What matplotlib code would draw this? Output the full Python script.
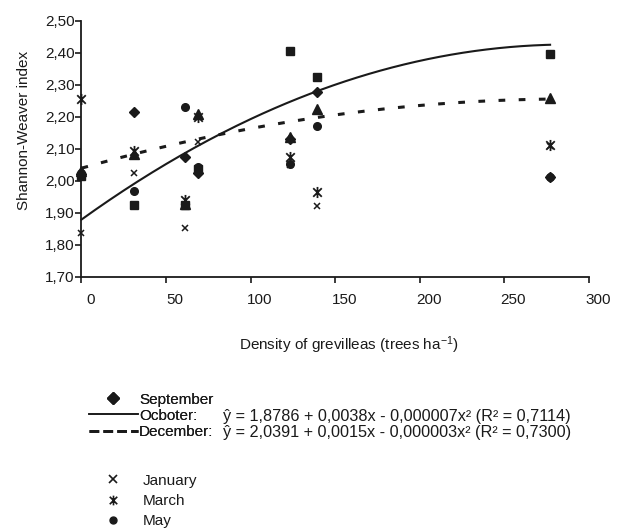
import numpy as np
import matplotlib
matplotlib.use("Agg")
from matplotlib import pyplot
from matplotlib.path import Path
from matplotlib.lines import Line2D
from matplotlib.transforms import ScaledTranslation

pyplot.rcParams["font.family"] = ["Liberation Sans", "DejaVu Sans"]
pyplot.rcParams["mathtext.fontset"] = "custom"
pyplot.rcParams["mathtext.rm"] = "Liberation Sans"
pyplot.rcParams["mathtext.it"] = "Liberation Sans:italic"

# Density of grevilleas (trees/ha)
density = [0, 31, 61, 69, 123, 139, 277]

# Shannon-Weaver index per month
september = [2.020, 2.215, 2.075, 2.025, 2.130, 2.278, 2.012]
october = [2.015, 1.924, 1.924, 2.036, 2.406, 2.325, 2.396]
december = [2.030, 2.085, 1.926, 2.210, 2.136, 2.223, 2.257]
january = [1.836, 2.023, 1.851, 2.122, 2.048, 1.921, 2.110]
march = [2.254, 2.094, 1.940, 2.198, 2.075, 1.966, 2.112]
may = [2.025, 1.969, 2.230, 2.044, 2.052, 2.171, 2.013]

# quadratic fits (coefficients as drawn)
october_fit = [1.8786, 0.0038, -0.0000066]
december_fit = [2.0391, 0.0015, -0.0000026]
october_eq = "ŷ = 1,8786 + 0,0038x - 0,000007x² (R² = 0,7114)"
december_eq = "ŷ = 2,0391 + 0,0015x - 0,000003x² (R² = 0,7300)"

x_ticks = [0, 50, 100, 150, 200, 250, 300]
y_ticks = [1.70, 1.80, 1.90, 2.00, 2.10, 2.20, 2.30, 2.40, 2.50]

ink = "#1a1a1a"
fs = 11
star = Path([(-1, -1), (1, 1), (-1, 1), (1, -1), (0, -1.3), (0, 1.3)],
            [Path.MOVETO, Path.LINETO, Path.MOVETO, Path.LINETO, Path.MOVETO, Path.LINETO])

fig = pyplot.figure(figsize=(6.18, 5.31), dpi=100)
ax = fig.add_axes([81.5 / 618, 1 - 276.7 / 531, (589 - 81.5) / 618, 256 / 531])

xx = np.linspace(density[0], density[-1], 200)
ax.plot(xx, october_fit[0] + october_fit[1] * xx + october_fit[2] * xx ** 2,
        color=ink, lw=1.5, clip_on=False)
ax.plot(xx, december_fit[0] + december_fit[1] * xx + december_fit[2] * xx ** 2,
        color=ink, lw=2.2, linestyle=(0, (2.2, 4.4)), clip_on=False)

ax.plot(density, september, "D", ms=5, color=ink, ls="none", clip_on=False)
ax.plot(density, october, "s", ms=6, color=ink, ls="none", clip_on=False)
ax.plot(density, december, "^", ms=6.5, color=ink, ls="none", clip_on=False)
ax.plot(density, january, "x", ms=5, mew=1.1, color=ink, ls="none", clip_on=False)
ax.plot(density, march, marker=star, ms=8, mew=1.3, color=ink, ls="none", clip_on=False)
ax.plot(density, may, "o", ms=5.5, color=ink, ls="none", clip_on=False)

ax.set_xlim(0, 300)
ax.set_ylim(1.70, 2.50)
ax.set_xticks(x_ticks)
ax.set_xticklabels([str(t) for t in x_ticks])
ax.set_yticks(y_ticks)
ax.set_yticklabels([f"{t:.2f}".replace(".", ",") for t in y_ticks])

for side in ["top", "right"]:
    ax.spines[side].set_visible(False)
for side in ["left", "bottom"]:
    ax.spines[side].set_linewidth(1.3)
    ax.spines[side].set_color(ink)
ax.tick_params(direction="out", length=4, width=1.2, color=ink, labelsize=fs, labelcolor=ink)
ax.tick_params(axis="x", pad=8)
ax.tick_params(axis="y", pad=1)

# tick labels in the original sit a bit to the right of their ticks
shift = ScaledTranslation(9 / 100, 0, fig.dpi_scale_trans)
for lab in ax.get_xticklabels():
    lab.set_transform(lab.get_transform() + shift)

ax.set_xlabel(r"Density of grevilleas (trees ha$^{-1}$)", fontsize=fs, color=ink)
ax.xaxis.set_label_coords(0.527, -0.225)
ax.set_ylabel("Shannon-Weaver index", fontsize=fs, color=ink)
ax.yaxis.set_label_coords(-0.1, 0.57)

handles_top = [
    Line2D([], [], marker="D", ms=6.5, color=ink, ls="none"),
    Line2D([], [], color=ink, lw=1.2),
    Line2D([], [], color=ink, lw=2, linestyle=(0, (3.5, 1.5))),
]
leg1 = fig.legend(handles_top, ["September", "Ocboter:", "December:"],
                  loc="upper left", bbox_to_anchor=(81 / 618, 1 - 385 / 531),
                  frameon=False, fontsize=fs, handlelength=3.2, handletextpad=0.1,
                  labelspacing=0.14, borderpad=0, labelcolor=ink)

handles_bottom = [
    Line2D([], [], marker="x", ms=6, mew=1.2, color=ink, ls="none"),
    Line2D([], [], marker=star, ms=7, mew=1.2, color=ink, ls="none"),
    Line2D([], [], marker="o", ms=5, color=ink, ls="none"),
]
leg2 = fig.legend(handles_bottom, ["January", "March", "May"],
                  loc="upper left", bbox_to_anchor=(81 / 618, 1 - 466 / 531),
                  frameon=False, fontsize=fs, handlelength=3.2, handletextpad=0.35,
                  labelspacing=0.42, borderpad=0, labelcolor=ink)
fig.add_artist(leg1)

fig.text(223 / 618, 1 - 416 / 531, october_eq, fontsize=11.7, color=ink, va="center")
fig.text(223 / 618, 1 - 433 / 531, december_eq, fontsize=11.7, color=ink, va="center")

fig.savefig("out.png", dpi=100)
